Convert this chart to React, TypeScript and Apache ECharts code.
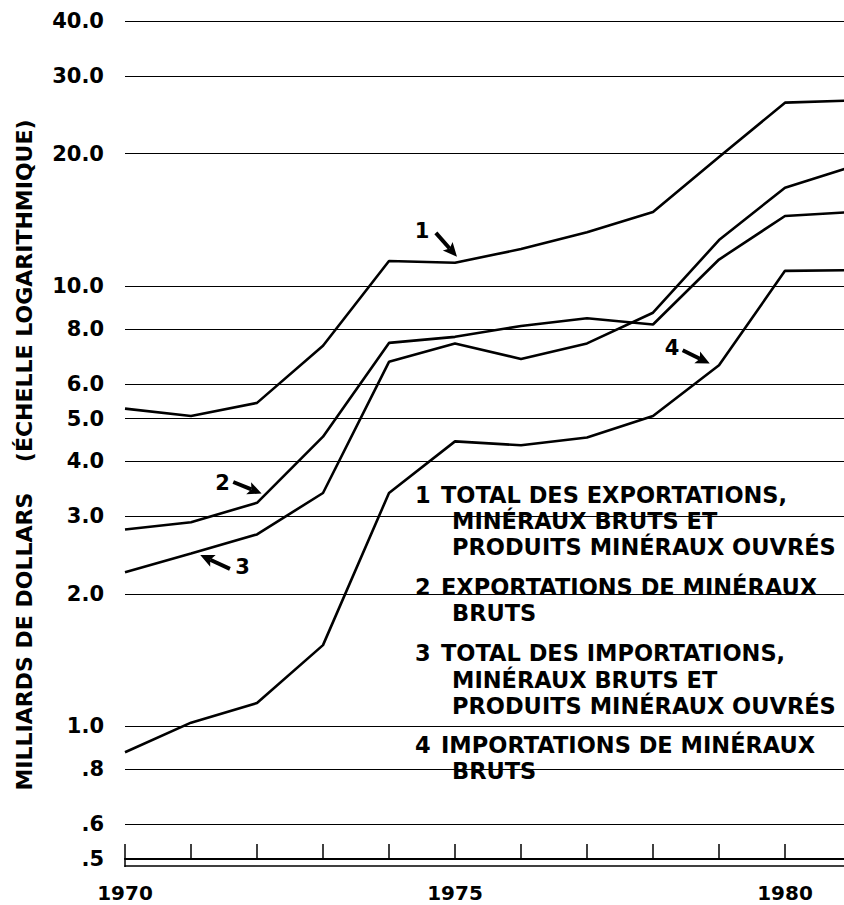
import React, { useEffect, useRef } from 'react';
import * as echarts from 'echarts';

// ---- Data (billions of dollars, log scale) ----
const years = [1970, 1971, 1972, 1973, 1974, 1975, 1976, 1977, 1978, 1979, 1980, 1981];
// 1 Total des exportations, minéraux bruts et produits minéraux ouvrés
const totalExports = [5.27, 5.07, 5.43, 7.32, 11.4, 11.3, 12.14, 13.25, 14.73, 19.64, 26.1, 26.4];
// 2 Exportations de minéraux bruts
const crudeExports = [2.8, 2.91, 3.22, 4.55, 7.43, 7.67, 8.12, 8.45, 8.18, 11.49, 14.43, 14.73];
// 3 Total des importations, minéraux bruts et produits minéraux ouvrés
const totalImports = [2.24, 2.47, 2.73, 3.39, 6.73, 7.41, 6.83, 7.41, 8.7, 12.72, 16.73, 18.64];
// 4 Importations de minéraux bruts
const crudeImports = [0.874, 1.02, 1.13, 1.53, 3.39, 4.44, 4.35, 4.53, 5.07, 6.61, 10.83, 10.87];

const yTicks = [0.5, 0.6, 0.8, 1, 2, 3, 4, 5, 6, 8, 10, 20, 30, 40];
const xLabelYears = [1970, 1975, 1980];

// annotation numbers (year, value, text) and arrows (tail year, value -> tip year, value)
const annotationLabels: [number, number, string][] = [
  [1974.5, 13.37, '1'],
  [1971.48, 3.57, '2'],
  [1971.78, 2.3, '3'],
  [1978.29, 7.25, '4'],
];
const annotationArrows: [number, number, number, number][] = [
  [1974.71, 13.21, 1975.03, 11.66],
  [1971.64, 3.59, 1972.07, 3.38],
  [1971.59, 2.28, 1971.14, 2.45],
  [1978.45, 7.15, 1978.86, 6.67],
];

const legendGroups = [
  ['1', 'TOTAL DES EXPORTATIONS,', 'MINÉRAUX BRUTS ET', 'PRODUITS MINÉRAUX OUVRÉS'],
  ['2', 'EXPORTATIONS DE MINÉRAUX', 'BRUTS'],
  ['3', 'TOTAL DES IMPORTATIONS,', 'MINÉRAUX BRUTS ET', 'PRODUITS MINÉRAUX OUVRÉS'],
  ['4', 'IMPORTATIONS DE MINÉRAUX', 'BRUTS'],
];
const yAxisTitle = 'MILLIARDS DE DOLLARS\u00A0\u00A0\u00A0 (ÉCHELLE LOGARITHMIQUE)';

const FONT = '"DejaVu Sans", sans-serif';

const formatTick = (v: number) => (v >= 1 ? v.toFixed(1) : '.' + Math.round(v * 10));

export default function App() {
  const ref = useRef<HTMLDivElement>(null);

  useEffect(() => {
    if (!ref.current) return;
    const chart = echarts.init(ref.current, undefined, { renderer: 'svg' });

    const toPairs = (vals: number[]) => years.map((y, i) => [y, vals[i]]);
    const lineSeries = (name: string, vals: number[]) => ({
      name,
      type: 'line',
      data: toPairs(vals),
      symbol: 'none',
      silent: true,
      z: 3,
      lineStyle: { color: '#000', width: 2.6 },
    });

    chart.setOption({
      animation: false,
      backgroundColor: '#fff',
      grid: { left: 125, top: 21, width: 726, height: 838 },
      xAxis: [
        {
          type: 'value',
          min: 1970,
          max: 1981,
          interval: 1,
          axisLine: { show: true, lineStyle: { color: '#000', width: 2 } },
          axisTick: { show: true, inside: true, length: 15, lineStyle: { color: '#000', width: 1.5 } },
          axisLabel: {
            show: true,
            margin: 24,
            color: '#000',
            fontFamily: FONT,
            fontWeight: 'bold',
            fontSize: 20,
            formatter: (v: number) => (xLabelYears.includes(v) ? String(v) : ''),
          },
          splitLine: { show: false },
        },
        {
          type: 'value',
          min: 1970,
          max: 1981,
          interval: 1,
          position: 'bottom',
          offset: 7,
          axisLine: { show: true, lineStyle: { color: '#000', width: 1.5 } },
          axisTick: { show: false },
          axisLabel: { show: false },
          splitLine: { show: false },
        },
      ],
      yAxis: {
        type: 'log',
        logBase: 10,
        min: 0.5,
        max: 40,
        axisLine: { show: false },
        axisTick: { show: false },
        axisLabel: { show: false },
        splitLine: { show: false },
      },
      series: [
        {
          name: 'grid',
          type: 'line',
          data: [],
          z: 0,
          silent: true,
          markLine: {
            silent: true,
            symbol: ['none', 'none'],
            lineStyle: { color: '#000', width: 1.2, type: 'solid' },
            label: { show: false },
            data: yTicks.map((v) => ({ yAxis: v })),
          },
        },
        lineSeries('Total des exportations', totalExports),
        lineSeries('Exportations de minéraux bruts', crudeExports),
        lineSeries('Total des importations', totalImports),
        lineSeries('Importations de minéraux bruts', crudeImports),
      ],
    });

    // positions from the chart's own scales
    const px = (x: number, y: number) => chart.convertToPixel({ seriesIndex: 1 }, [x, y]) as number[];

    const els: any[] = [];
    // white knock-out behind the legend (under the series lines, over gridlines)
    els.push({ type: 'rect', z: 1, shape: { x: 435, y: 446, width: 430, height: 26 }, style: { fill: '#fff' } });
    els.push({ type: 'rect', z: 1, shape: { x: 402, y: 472, width: 470, height: 314 }, style: { fill: '#fff' } });
    els.push({ type: 'line', z: 4, shape: { x1: 125, y1: 858, x2: 125, y2: 867 }, style: { stroke: '#000', lineWidth: 1.5 } });

    // y tick labels
    yTicks.forEach((v) => {
      const [, y] = px(1970, v);
      els.push({
        type: 'text',
        z: 5,
        style: { text: formatTick(v), x: 104, y, fill: '#000', font: `bold 21px ${FONT}`, align: 'right', verticalAlign: 'middle' },
      });
    });

    // y axis title
    els.push({
      type: 'text',
      z: 5,
      x: 24.5,
      y: 455,
      rotation: Math.PI / 2,
      style: { text: yAxisTitle, fill: '#000', font: `bold 22px ${FONT}`, align: 'center', verticalAlign: 'middle' },
    });

    // annotation numbers
    annotationLabels.forEach(([xv, yv, t]) => {
      const [x, y] = px(xv, yv);
      els.push({
        type: 'text',
        z: 5,
        style: { text: t, x, y, fill: '#000', font: `bold 21px ${FONT}`, align: 'center', verticalAlign: 'middle' },
      });
    });

    // annotation arrows
    annotationArrows.forEach(([x1, y1, x2, y2]) => {
      const [sx, sy] = px(x1, y1);
      const [tx, ty] = px(x2, y2);
      const len = Math.hypot(tx - sx, ty - sy);
      const dx = (tx - sx) / len;
      const dy = (ty - sy) / len;
      const nx = -dy;
      const ny = dx;
      const L = 14;
      const W = 6.5;
      const bx = tx - L * dx;
      const by = ty - L * dy;
      els.push({
        type: 'line',
        z: 5,
        shape: { x1: sx, y1: sy, x2: bx + 3 * dx, y2: by + 3 * dy },
        style: { stroke: '#000', lineWidth: 4 },
      });
      els.push({
        type: 'polygon',
        z: 5,
        shape: {
          points: [
            [tx, ty],
            [bx + W * nx, by + W * ny],
            [bx + 3 * dx, by + 3 * dy],
            [bx - W * nx, by - W * ny],
          ],
        },
        style: { fill: '#000' },
      });
    });

    // legend text
    const groupTops = [494.7, 586.7, 653.3, 745];
    const lineGap = 26.3;
    legendGroups.forEach((g, gi) => {
      const y0 = groupTops[gi];
      els.push({
        type: 'text',
        z: 5,
        style: { text: g[0], x: 415, y: y0, fill: '#000', font: `bold 22.5px ${FONT}`, verticalAlign: 'middle' },
      });
      g.slice(1).forEach((t, li) => {
        els.push({
          type: 'text',
          z: 5,
          style: {
            text: t,
            x: li === 0 ? 441 : 452,
            y: y0 + li * lineGap,
            fill: '#000',
            font: `bold 22.5px ${FONT}`,
            verticalAlign: 'middle',
          },
        });
      });
    });

    chart.setOption({ graphic: els });

    return () => chart.dispose();
  }, []);

  return (
    <div style={{ position: 'absolute', left: 0, top: 0, width: 844, height: 905, overflow: 'hidden', background: '#fff' }}>
      <div ref={ref} style={{ width: 860, height: 905 }} />
    </div>
  );
}
